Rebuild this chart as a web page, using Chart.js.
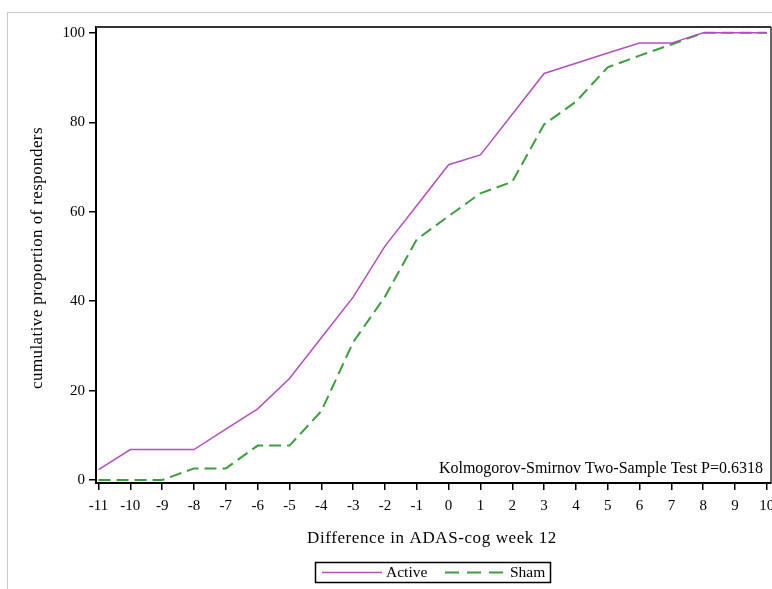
<!DOCTYPE html>
<html>
<head>
<meta charset="utf-8">
<script src="https://cdn.jsdelivr.net/npm/chart.js@4"></script>
<style>
  html, body { margin: 0; padding: 0; background: #fff; }
  #wrap { position: relative; width: 772px; height: 589px; }
  #frame { position: absolute; left: 7px; top: 12px; right: 0; bottom: 0;
           border-top: 1px solid #c8c8c8; border-left: 1px solid #c8c8c8; }
  canvas { position: absolute; left: 0; top: 0; }
</style>
</head>
<body>
<div id="wrap">
  <div id="frame"></div>
  <canvas id="cdf" width="772" height="589"></canvas>
</div>
<script>
// difference in ADAS-cog at week 12
const diffs = [-11, -10, -9, -8, -7, -6, -5, -4, -3, -2, -1, 0, 1, 2, 3, 4, 5, 6, 7, 8, 9, 10];

// cumulative proportion of responders (%)
const activeVals = [2.3, 6.8, 6.8, 6.8, 11.4, 15.9, 22.7, 31.8, 40.9, 52.3, 61.4, 70.5, 72.7, 81.8, 90.9, 93.2, 95.5, 97.7, 97.7, 100, 100, 100];
const shamVals = [0, 0, 0, 2.6, 2.6, 7.7, 7.7, 15.4, 30.8, 41.0, 53.8, 59.0, 64.1, 66.7, 79.5, 84.6, 92.3, 94.9, 97.4, 100, 100, 100];

const xTicks = [-11, -10, -9, -8, -7, -6, -5, -4, -3, -2, -1, 0, 1, 2, 3, 4, 5, 6, 7, 8, 9, 10];
const yTicks = [0, 20, 40, 60, 80, 100];

const xTitle = "Difference in ADAS-cog week 12";
const yTitle = "cumulative proportion of responders";
const note = "Kolmogorov-Smirnov Two-Sample Test P=0.6318";

const purple = "#b24fbf";
const green = "#3d9e3d";
const serif = "'Liberation Serif', 'DejaVu Serif', serif";

function pts(vals) {
    return diffs.map((d, i) => ({ x: d, y: vals[i] }));
}

// frame lines, titles, note and legend box
const extras = {
    id: "extras",
    afterDraw(chart) {
        const ctx = chart.ctx;
        const a = chart.chartArea;
        ctx.save();

        // top + right border of plot box
        ctx.strokeStyle = "#333";
        ctx.lineWidth = 2;
        ctx.beginPath();
        ctx.moveTo(a.left, a.top);
        ctx.lineTo(a.right, a.top);
        ctx.stroke();
        ctx.lineWidth = 1.5;
        ctx.beginPath();
        ctx.moveTo(a.right, a.top);
        ctx.lineTo(a.right, a.bottom);
        ctx.stroke();

        ctx.fillStyle = "#000";
        ctx.textBaseline = "alphabetic";

        // note
        ctx.font = "16px " + serif;
        ctx.textAlign = "right";
        ctx.fillText(note, 763, 473);

        // x title
        ctx.font = "17px " + serif;
        ctx.letterSpacing = "0.6px";
        ctx.textAlign = "center";
        ctx.fillText(xTitle, 432, 543);

        // y title
        ctx.letterSpacing = "0.4px";
        ctx.save();
        ctx.translate(42, 258);
        ctx.rotate(-Math.PI / 2);
        ctx.fillText(yTitle, 0, 0);
        ctx.restore();
        ctx.letterSpacing = "0px";

        // legend
        ctx.strokeStyle = "#000";
        ctx.lineWidth = 1.5;
        ctx.strokeRect(315.5, 562.5, 235, 20);

        ctx.lineWidth = 1.5;
        ctx.strokeStyle = purple;
        ctx.beginPath();
        ctx.moveTo(322, 572.5);
        ctx.lineTo(382, 572.5);
        ctx.stroke();

        ctx.lineWidth = 2;
        ctx.strokeStyle = green;
        ctx.setLineDash([14, 8]);
        ctx.beginPath();
        ctx.moveTo(445, 572.5);
        ctx.lineTo(507, 572.5);
        ctx.stroke();
        ctx.setLineDash([]);

        ctx.font = "15.5px " + serif;
        ctx.textAlign = "left";
        ctx.fillText("Active", 386, 577);
        ctx.fillText("Sham", 510, 577);

        ctx.restore();
    }
};

new Chart(document.getElementById("cdf"), {
    type: "line",
    data: {
        datasets: [
            {
                label: "Active",
                data: pts(activeVals),
                borderColor: purple,
                backgroundColor: "transparent",
                borderWidth: 1.5,
                pointRadius: 0,
                tension: 0
            },
            {
                label: "Sham",
                data: pts(shamVals),
                borderColor: green,
                backgroundColor: "transparent",
                borderWidth: 2,
                borderDash: [12, 6],
                pointRadius: 0,
                tension: 0
            }
        ]
    },
    options: {
        responsive: false,
        animation: false,
        layout: { padding: { left: 0, top: 27, right: 1, bottom: 0 } },
        plugins: {
            legend: { display: false },
            tooltip: { enabled: false }
        },
        scales: {
            x: {
                type: "linear",
                min: -11.08,
                max: 10.13,
                afterBuildTicks: (s) => { s.ticks = xTicks.map(v => ({ value: v })); },
                afterFit: (s) => { s.height = 106; s.paddingLeft = 0; s.paddingRight = 0; },
                grid: { drawOnChartArea: false, drawTicks: true, tickLength: 7, color: "#000", lineWidth: 1.5 },
                border: { display: true, color: "#000", width: 2 },
                ticks: {
                    color: "#000",
                    padding: 7,
                    maxRotation: 0,
                    autoSkip: false,
                    font: { family: serif, size: 15 }
                }
            },
            y: {
                min: -0.67,
                max: 101.3,
                afterBuildTicks: (s) => { s.ticks = yTicks.map(v => ({ value: v })); },
                afterFit: (s) => { s.width = 96; s.paddingTop = 0; s.paddingBottom = 0; },
                grid: { drawOnChartArea: false, drawTicks: true, tickLength: 7, color: "#000", lineWidth: 1.5 },
                border: { display: true, color: "#000", width: 2 },
                ticks: {
                    color: "#000",
                    padding: 4,
                    font: { family: serif, size: 15 }
                }
            }
        }
    },
    plugins: [extras]
});
</script>
</body>
</html>
